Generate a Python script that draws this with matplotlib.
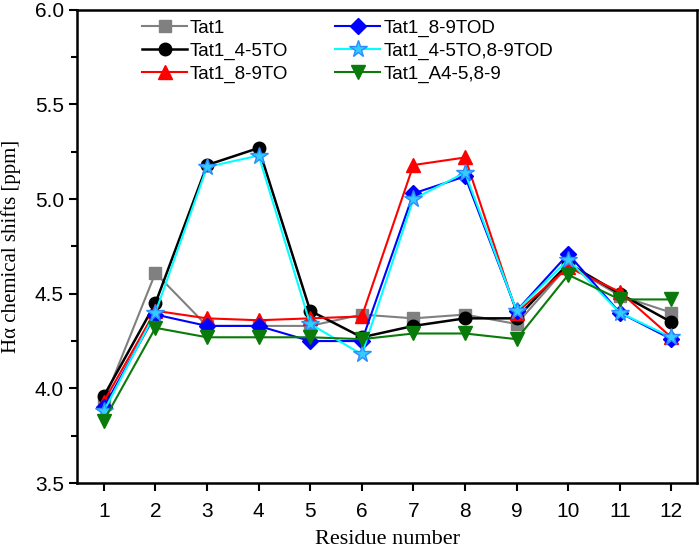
import numpy as np
import matplotlib
matplotlib.use("Agg")
from matplotlib import pyplot as plt
from matplotlib.ticker import MultipleLocator

residues = list(range(1, 13))
tat1 = [3.93, 4.61, 4.33, 4.33, 4.33, 4.39, 4.37, 4.39, 4.34, 4.65, 4.49, 4.40]
tat1_45to = [3.96, 4.45, 5.18, 5.27, 4.41, 4.27, 4.33, 4.37, 4.37, 4.66, 4.50, 4.35]
tat1_89to = [3.93, 4.41, 4.37, 4.36, 4.37, 4.38, 5.18, 5.22, 4.40, 4.64, 4.51, 4.27]
tat1_89tod = [3.90, 4.39, 4.33, 4.33, 4.25, 4.25, 5.03, 5.12, 4.41, 4.71, 4.40, 4.26]
tat1_45to_89tod = [3.88, 4.40, 5.17, 5.23, 4.34, 4.18, 5.00, 5.14, 4.41, 4.68, 4.40, 4.27]
tat1_a45_89 = [3.83, 4.32, 4.27, 4.27, 4.27, 4.26, 4.29, 4.29, 4.26, 4.60, 4.47, 4.47]

series = [
    ("Tat1", tat1, dict(color="#808080", marker="s", ms=8, lw=1.5)),
    ("Tat1_4-5TO", tat1_45to, dict(color="black", marker="o", ms=9, lw=1.8)),
    ("Tat1_8-9TO", tat1_89to, dict(color="red", marker="^", ms=10, lw=1.5)),
    ("Tat1_8-9TOD", tat1_89tod, dict(color="blue", marker="D", ms=8, lw=1.5)),
    ("Tat1_4-5TO,8-9TOD", tat1_45to_89tod,
     dict(color="cyan", marker="*", ms=13, lw=1.5, mfc="#33ccff", mec="#2a8cff", mew=1.0)),
    ("Tat1_A4-5,8-9", tat1_a45_89, dict(color="#0a7a0a", marker="v", ms=10, lw=1.5)),
]

fig = plt.figure(figsize=(7, 5.48), dpi=100)
ax = fig.add_axes([0.11, 0.1186, 0.886, 0.8634])

handles = []
for name, vals, style in series:
    h, = ax.plot(residues, vals, label=name, **style)
    handles.append(h)

ax.set_xlim(0.48, 12.5)
ax.set_ylim(3.5, 6.0)
ax.set_xticks(residues)
ax.yaxis.set_major_locator(MultipleLocator(0.5))
ax.yaxis.set_minor_locator(MultipleLocator(0.25))
ax.tick_params(axis="both", direction="out", width=1.5, length=6, labelsize=15,
               right=False, top=False)
ax.tick_params(axis="x", pad=8)
ax.tick_params(axis="y", which="minor", direction="out", width=1.5, length=4)
for lab in ax.get_xticklabels() + ax.get_yticklabels():
    lab.set_fontfamily("Liberation Sans")
for sp in ax.spines.values():
    sp.set_linewidth(1.8)

ax.set_xlabel("Residue number", fontsize=16, fontfamily="Liberation Serif", labelpad=6)
ax.set_ylabel("H\u03b1 chemical shifts [ppm]", fontsize=15, fontfamily="Liberation Serif",
              labelpad=10)

ax.legend(handles, [s[0] for s in series], ncol=2,
          loc="upper left", bbox_to_anchor=(0.078, 1.015), frameon=False,
          prop={"family": "Liberation Sans", "size": 13.5}, handlelength=2.4,
          handletextpad=0.15, columnspacing=2.5, labelspacing=0.3)

fig.savefig("out.png", dpi=100)
